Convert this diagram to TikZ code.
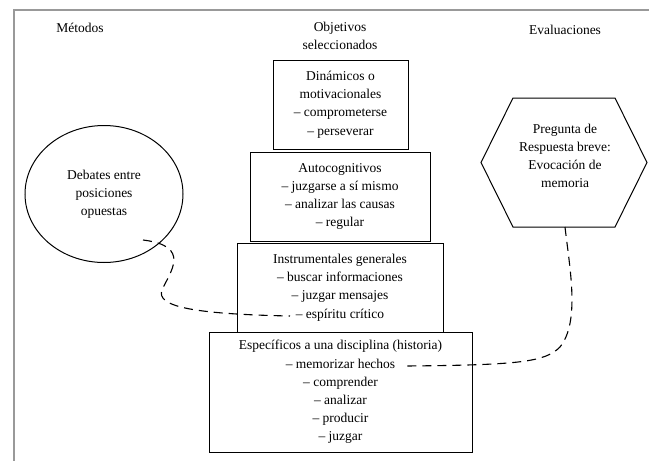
\documentclass[tikz,border=0pt]{standalone}
\usepackage{fontspec}
\setmainfont{Liberation Serif}
\usetikzlibrary{shapes.geometric}
\begin{document}
\begin{tikzpicture}[x=1pt,y=-1pt,
  txt/.style={font=\fontsize{13.5}{18.2}\selectfont, align=center, inner sep=0pt},
  objbox/.style={draw, line width=1pt, txt},
  conn/.style={line width=1.1pt, dash pattern=on 9pt off 6pt},
  shape line/.style={line width=1pt}]
\useasboundingbox (0,0) rectangle (649,461);
% frame
\draw[line width=1.2pt, gray!80] (14,461) -- (14,10) -- (649,10);
% titles
\node[txt] (tm) at (80,28) {Métodos};
\node[txt] (to) at (340,36) {Objetivos\\seleccionados};
\node[txt] (te) at (565,30) {Evaluaciones};
% boxes
\node[objbox, minimum width=135pt, minimum height=89pt] (b1) at (340.5,104.5) {Dinámicos o\\motivacionales\\– comprometerse\\– perseverar};
\node[objbox, minimum width=180pt, minimum height=89pt] (b2) at (340,196.5) {Autocognitivos\\– juzgarse a sí mismo\\– analizar las causas\\– regular};
\node[objbox, minimum width=206pt, minimum height=89pt] (b3) at (340,287.5) {Instrumentales generales\\– buscar informaciones\\– juzgar mensajes\\– espíritu crítico};
\node[objbox, minimum width=263pt, minimum height=120pt] (b4) at (340.5,392) {Específicos a una disciplina (historia)\\– memorizar hechos\\– comprender\\– analizar\\– producir\\– juzgar};
% circle
\node[draw, shape line, ellipse, minimum width=158pt, minimum height=137pt, txt] (deb) at (104,194) {Debates entre\\posiciones\\opuestas};
% hexagon
\draw[shape line] (513,98) -- (615,98) -- (647,162.5) -- (615,227) -- (513,227) -- (481,162.5) -- cycle;
\coordinate (hexs) at (565,227);
\node[txt] (hex) at (565,156) {Pregunta de\\Respuesta breve:\\Evocación de\\memoria};
% connector end points
\coordinate (c1s) at (143,240);
\coordinate (c1e) at (290,316);
\coordinate (c2e) at (406,366);
% dashed connectors
\draw[conn] (c1s) .. controls (192,246) and (170,272) .. (162,290)
  .. controls (156,306) and (190,314) .. (c1e);
\draw[conn] (hexs) .. controls (570,270) and (580,322) .. (560,347)
  .. controls (545,362) and (520,365) .. (c2e);
\end{tikzpicture}
\end{document}
